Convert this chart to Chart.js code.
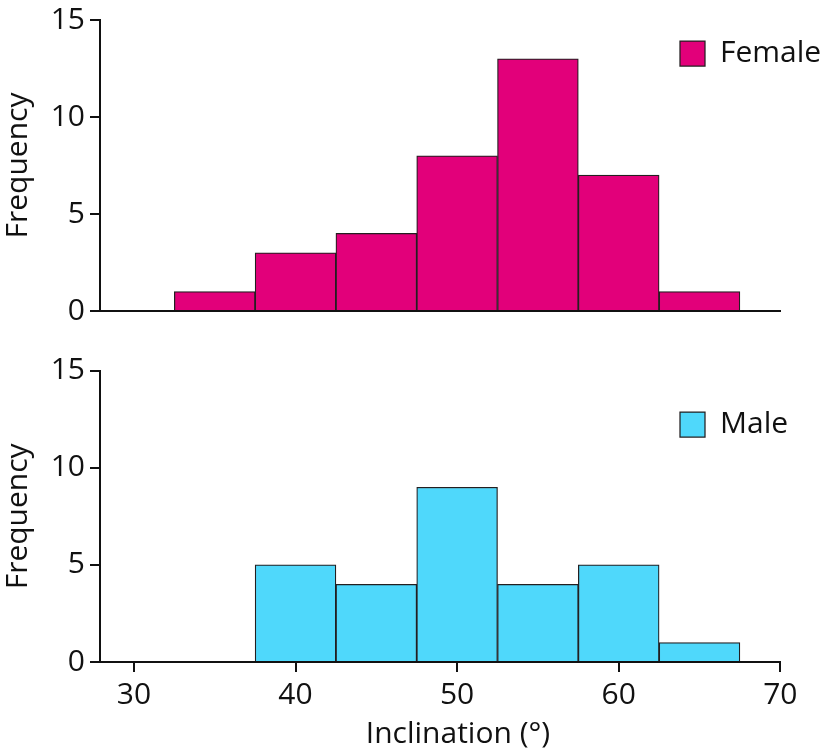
<!DOCTYPE html>
<html>
<head>
<meta charset="utf-8">
<script src="https://cdn.jsdelivr.net/npm/chart.js@4.4.0/dist/chart.umd.min.js"></script>
<style>
html,body{margin:0;padding:0;background:#fff;overflow:hidden}
#wrap{position:relative;width:824px;height:752px;background:#fff}
#c1{position:absolute;left:0;top:0}
#c2{position:absolute;left:0;top:345px}
#xtitle{position:absolute;left:308px;top:717px;width:300px;text-align:center;font-family:'Open Sans';font-size:30px;line-height:30px;color:#111;white-space:nowrap}
</style>
</head>
<body>
<div id="wrap">
<canvas id="c1" width="824" height="345"></canvas>
<canvas id="c2" width="824" height="407"></canvas>
<div id="xtitle">Inclination (°)</div>
</div>
<script>
// ---- data ----
const femaleBins = [35, 40, 45, 50, 55, 60, 65];
const femaleCounts = [1, 3, 4, 8, 13, 7, 1];
const maleBins = [40, 45, 50, 55, 60, 65];
const maleCounts = [5, 4, 9, 4, 5, 1];
const xTickValues = [30, 40, 50, 60, 70];
const yTickValues = [0, 5, 10, 15];
const xMin = 27.9, xMax = 70;
const yMin = 0, yMax = 15;

const INK = '#111111';
const FONT = {family: "'Open Sans'", size: 30};
Chart.defaults.font.family = "'Open Sans'";
Chart.defaults.color = INK;

const legendPlacer = {
  id: 'legendPlacer',
  afterLayout(chart, args, opts) {
    const lg = chart.legend;
    if (!lg) return;
    const w = lg.width, h = lg.height;
    lg.left = opts.x; lg.top = opts.y;
    lg.right = opts.x + w; lg.bottom = opts.y + h;
  }
};

function makeChart(canvasId, label, bins, counts, color, cfg) {
  return new Chart(document.getElementById(canvasId), {
    type: 'bar',
    data: {
      datasets: [{
        label: label,
        data: bins.map((b, i) => ({x: b, y: counts[i]})),
        backgroundColor: color,
        borderColor: '#231F20',
        borderWidth: 1.25,
        barPercentage: 1,
        categoryPercentage: 1
      }]
    },
    plugins: [legendPlacer],
    options: {
      responsive: false,
      animation: false,
      devicePixelRatio: 1,
      layout: {padding: {top: cfg.padTop, left: 0, right: 43.7, bottom: 0}},
      plugins: {
        tooltip: {enabled: false},
        title: {display: false},
        legend: {
          display: true,
          position: 'chartArea',
          align: 'start',
          labels: {font: FONT, color: INK, boxWidth: 25, boxHeight: 25, padding: 10}
        },
        legendPlacer: {x: 670, y: cfg.legendTop}
      },
      scales: {
        x: {
          type: 'linear',
          min: xMin,
          max: xMax,
          offset: false,
          afterBuildTicks: s => { s.ticks = xTickValues.map(v => ({value: v})); },
          ticks: {display: cfg.showX, padding: 5, font: FONT, color: INK, maxRotation: 0, autoSkip: false},
          grid: {display: cfg.showX, offset: false, drawOnChartArea: false, drawTicks: true, tickLength: 10, color: INK, lineWidth: 2},
          border: {display: true, color: INK, width: 2},
          afterFit: s => { s.height = cfg.xHeight; s.paddingLeft = 0; s.paddingRight = 0; }
        },
        y: {
          min: yMin,
          max: yMax,
          afterBuildTicks: s => { s.ticks = yTickValues.map(v => ({value: v})); },
          ticks: {padding: 5, font: FONT, color: INK},
          grid: {drawOnChartArea: false, drawTicks: true, tickLength: 10, color: INK, lineWidth: 2},
          border: {display: true, color: INK, width: 2},
          title: {display: true, text: 'Frequency', font: FONT, color: INK, padding: 0},
          afterFit: s => { s.width = 100; s.paddingTop = 0; s.paddingBottom = 0; }
        }
      }
    }
  });
}

makeChart('c1', 'Female', femaleBins, femaleCounts, '#E2007A',
  {padTop: 20, xHeight: 34, showX: false, legendTop: 28.5});
makeChart('c2', 'Male', maleBins, maleCounts, '#4FD8FB',
  {padTop: 25.7, xHeight: 90, showX: true, legendTop: 54.5});
</script>
</body>
</html>
